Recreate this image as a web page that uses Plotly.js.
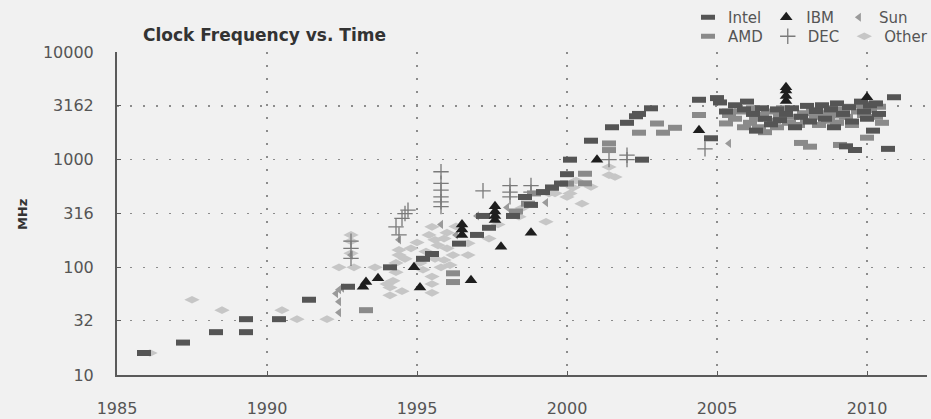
<!DOCTYPE html>
<html><head><meta charset="utf-8">
<script src="https://cdn.plot.ly/plotly-3.0.1.min.js"></script>
<style>html,body{margin:0;padding:0;background:#f1f1f1;} #chart{width:931px;height:419px;}</style>
</head><body><div id="chart"></div>
<script>
// ---- data (year, MHz) ----
const intelYear = [1985.9,1987.2,1988.3,1989.3,1989.3,1990.4,1991.4,1992.7,1994.1,1995.2,1995.5,1996.4,1997.0,1997.2,1997.4,1998.2,1998.6,1998.8,1999.2,1999.5,1999.8,2000.0,2000.1,2000.8,2001.5,2002.0,2002.3,2002.4,2002.8,2002.5,2004.4,2004.8,
  2005.0,2005.1,2005.3,2005.6,2005.9,2006.0,2006.2,2006.3,2006.5,2006.6,2006.8,2007.0,2007.1,2007.3,2007.5,2007.6,2007.8,2008.0,2008.1,2008.3,2008.5,2008.6,2008.8,2008.9,2009.0,2009.2,2009.3,2009.4,2009.5,2009.6,2009.8,2009.9,2010.0,2010.1,2010.2,2010.3,2010.4,2010.7,2010.9];
const intelMHz = [16,20,25,33,25,33,50,66,100,120,133,166,200,300,233,300,450,380,500,550,600,733,1000,1500,2000,2200,2530,2660,3000,1000,3600,1580,
  3730,3400,2800,3200,2930,3460,2660,1860,3000,2400,2130,2930,2330,2660,3000,2000,2500,3160,2260,2830,3200,2400,2930,2000,3330,2660,1330,3070,2260,1230,3460,2800,2400,3200,1860,3330,2660,1260,3800];

const amdYear = [1993.3,1996.2,1996.2,1998.3,1998.7,1998.9,1999.5,2000.0,2000.6,2000.6,2001.4,2001.4,2002.4,2003.0,2003.2,2003.6,2004.4,2005.4,
  2005.3,2005.4,2005.6,2005.8,2005.9,2006.1,2006.2,2006.3,2006.4,2006.5,2006.6,2006.7,2006.9,2007.0,2007.1,2007.2,2007.4,2007.5,2007.7,2007.8,2007.9,2008.0,2008.1,2008.2,2008.3,2008.4,2008.5,2008.7,2008.8,2008.9,2009.0,2009.1,2009.2,2009.3,2009.4,2009.5,2009.6,2009.7,2009.8,2009.9,2010.0,2010.1,2010.2,2010.3,2010.4,2010.5];
const amdMHz = [40,88,73,330,390,486,550,600,740,603,1415,1228,1780,2167,1780,1977,2600,2790,
  2170,2600,2400,2800,2000,2200,3000,2400,2000,2600,1800,2800,2300,2000,2600,3000,2200,2500,2100,1430,2700,2300,1320,2900,2500,2100,2700,2300,3000,2600,2200,1370,2900,2500,3100,2100,1230,2800,3200,2600,1600,2900,3300,2500,3100,2200];

const ibmYear = [1993.2,1993.3,1993.7,1994.9,1995.1,1996.5,1996.5,1996.5,1996.8,1997.6,1997.6,1997.6,1997.6,1997.8,1998.8,2001.0,2004.4,2007.3,2007.3,2007.3,2007.3,2010.0];
const ibmMHz  = [66,73,79,100,65,200,225,250,76,275,300,330,370,155,210,1000,1880,3500,3900,4400,4700,3800];

const decYear = [1992.8,1992.8,1992.8,1994.3,1994.4,1994.5,1994.6,1994.7,1995.8,1995.8,1995.8,1995.8,1995.8,1995.8,1997.2,1998.1,1998.1,1998.1,1998.8,1998.8,2001.4,2002.0,2002.0,2004.6];
const decMHz  = [121,150,175,238,200,285,316,340,366,406,452,522,603,772,514,452,500,575,500,575,1000,1100,1000,1260];

const sunYear = [1992.3,1992.4,1992.4,1992.4,1992.5,1992.8,1994.4,1995.8,1996.3,1997.0,1998.0,1999.3,2005.4];
const sunMHz  = [57,38,48,62,64,130,180,250,200,300,360,400,1415];

const otherYear = [1986.1,1987.5,1988.5,1990.5,1991.0,1992.0,1992.4,1992.9,1993.6,1992.8,1992.8,1992.8,1994.0,1994.1,1994.1,1994.2,1994.3,1994.3,1994.4,1994.4,1994.5,1994.6,1994.8,1995.0,1995.1,1995.2,1995.3,1995.4,1995.5,1995.5,1995.5,1995.5,1995.6,1995.6,1995.7,1995.8,1995.9,1995.9,1996.0,1996.0,1996.1,1996.2,1996.3,1996.7,1996.7,1997.4,1997.7,1998.4,1998.5,1999.3,1999.4,1999.6,2000.0,2000.1,2000.2,2000.3,2000.5,2000.8,2001.4,2001.4,2001.6,2008.4,2009.1];
const otherMHz  = [16,50,40,40,33,33,100,100,100,200,175,135,70,55,65,75,90,110,130,145,60,120,150,170,110,95,140,200,238,82,70,58,180,120,160,100,185,117,150,210,105,130,240,167,130,185,250,295,355,265,486,487,450,486,550,640,390,560,720,855,690,2900,2430];

const xTicks = [1985,1990,1995,2000,2005,2010];
const xTickText = ['1985','1990','1995','2000','2005','2010'];
const yTicks = [10,32,100,316,1000,3162,10000];
const yTickText = ['10','32','100','316','1000','3162','10000'];

const FONT = 'DejaVu Sans, sans-serif';
const tickFont = {family: FONT, size: 16, color: '#555'};

function tr(name, xs, ys, marker, legend, rank){
  return {type:'scatter', mode:'markers', name:name, x:xs, y:ys, marker:marker,
          legend:legend, legendrank:rank, hoverinfo:'x+y+name', cliponaxis:true};
}
const traces = [
  tr('Other', otherYear, otherMHz, {symbol:'diamond-wide', size:11, color:'#c6c6c6', line:{width:0}}, 'legend2', 3),
  tr('Sun', sunYear, sunMHz, {symbol:'triangle-left', size:8, color:'#9a9a9a', line:{width:0}}, 'legend', 3),
  tr('DEC', decYear, decMHz, {symbol:'cross-thin', size:11, color:'#7a7a7a', line:{width:1.3, color:'#7a7a7a'}}, 'legend2', 2),
  tr('AMD', amdYear, amdMHz, {symbol:'line-ew', size:10, color:'#8a8a8a', line:{width:6, color:'#8a8a8a'}}, 'legend2', 1),
  tr('Intel', intelYear, intelMHz, {symbol:'line-ew', size:10, color:'#555555', line:{width:6, color:'#555555'}}, 'legend', 1),
  tr('IBM', ibmYear, ibmMHz, {symbol:'triangle-up', size:11, color:'#1e1e1e', line:{width:0}}, 'legend', 2)
];

const legendBase = {orientation:'h', xref:'container', yref:'container', xanchor:'left', yanchor:'top',
  bgcolor:'rgba(0,0,0,0)', borderwidth:0, font:{family:FONT, size:15, color:'#555'}, traceorder:'normal'};

const layout = {
  width:931, height:419,
  paper_bgcolor:'#f1f1f1', plot_bgcolor:'#f1f1f1',
  margin:{l:117, r:4, t:52, b:44, pad:0, autoexpand:false},
  showlegend:true,
  title:{text:'Clock Frequency vs. Time', font:{family:FONT, size:17, color:'#333', weight:'bold'},
         x:143/931, xref:'container', xanchor:'left', y:1-35/419, yref:'container', yanchor:'middle'},
  xaxis:{range:[1985,2012], tickmode:'array', tickvals:xTicks, ticktext:xTickText,
         showgrid:true, gridcolor:'#8c8c8c', gridwidth:1.5, griddash:'2px,11px',
         showline:true, linecolor:'#5a5a5a', linewidth:2, ticks:'inside', ticklen:4, tickcolor:'#5a5a5a',
         tickfont:tickFont, zeroline:false, ticklabelstandoff:18, automargin:false},
  yaxis:{type:'log', range:[1,4], tickmode:'array', tickvals:yTicks, ticktext:yTickText,
         showgrid:true, gridcolor:'#8c8c8c', gridwidth:1.5, griddash:'2px,11px',
         showline:true, linecolor:'#5a5a5a', linewidth:2, ticks:'inside', ticklen:4, tickcolor:'#5a5a5a',
         tickfont:tickFont, zeroline:false, ticklabelstandoff:18, automargin:false},
  legend: Object.assign({}, legendBase, {x:688/931, y:1-1/419}),
  legend2: Object.assign({}, legendBase, {x:688/931, y:1-20/419}),
  annotations:[{text:'MHz', xref:'paper', yref:'paper', x:(22-117)/810, y:0.495, textangle:-90,
                showarrow:false, xanchor:'center', yanchor:'middle',
                font:{family:FONT, size:13, color:'#333', weight:'bold'}}]
};

Plotly.newPlot('chart', traces, layout, {displayModeBar:false, staticPlot:true});
</script></body></html>
